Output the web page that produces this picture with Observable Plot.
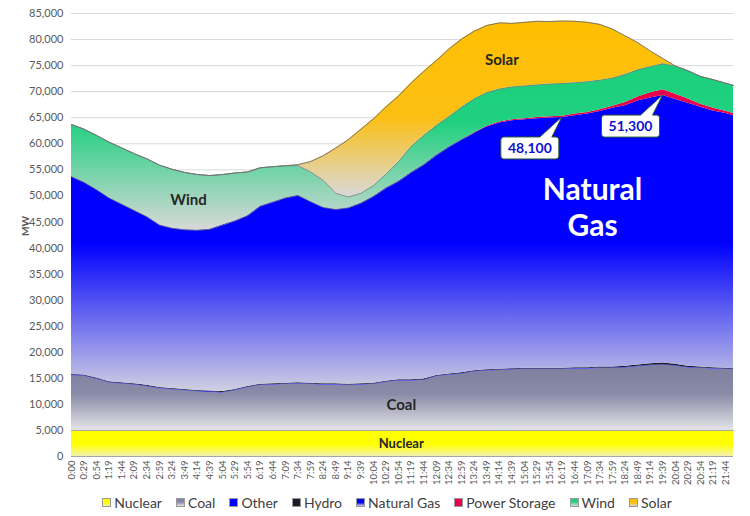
<!DOCTYPE html>
<html>
<head>
<meta charset="utf-8">
<script src="https://cdn.jsdelivr.net/npm/d3@7"></script>
<script src="https://cdn.jsdelivr.net/npm/@observablehq/plot@0.6"></script>
<style>
  html, body { margin: 0; padding: 0; background: #fff; }
  body { width: 750px; height: 516px; overflow: hidden; font-family: Lato, "Open Sans", sans-serif; }
  #chart svg { display: block; }
  #legend { display: flex; justify-content: center; align-items: center; height: 28px; padding-left: 24px; box-sizing: border-box; width: 750px; font-size: 14px; color: #404040; }
  .item { display: flex; align-items: center; margin: 0 7px; }
  .sw { width: 7px; height: 7px; border: 1px solid #9a9a9a; margin-right: 3px; }
</style>
</head>
<body>
<div id="chart"></div>
<div id="legend"></div>
<script>
// ---- data (MW) ----
const times = ["0:00","0:29","0:54","1:19","1:44","2:09","2:34","2:59","3:24","3:49","4:14","4:39","5:04","5:29","5:54","6:19","6:44","7:09","7:34","7:59","8:24","8:49","9:14","9:39","10:04","10:29","10:54","11:19","11:44","12:09","12:34","12:59","13:24","13:49","14:14","14:39","15:04","15:29","15:54","16:19","16:44","17:09","17:34","17:59","18:24","18:49","19:14","19:39","20:04","20:29","20:54","21:19","21:44","21:59"];

const nuclear = [5000,5000,5000,5000,5000,5000,5000,5000,5000,5000,5000,5000,5000,5000,5000,5000,5000,5000,5000,5000,5000,5000,5000,5000,5000,5000,5000,5000,5000,5000,5000,5000,5000,5000,5000,5000,5000,5000,5000,5000,5000,5000,5000,5000,5000,5000,5000,5000,5000,5000,5000,5000,5000,5000];
const coal = [10500,10400,9800,9100,8900,8700,8400,8000,7800,7600,7400,7300,7200,7600,8200,8600,8700,8800,8900,8800,8700,8700,8600,8700,8800,9200,9500,9500,9600,10300,10600,10800,11200,11400,11500,11600,11700,11700,11700,11700,11800,11800,11900,11900,12000,12200,12400,12500,12300,12000,11900,11800,11700,11600];
const other = [100,100,100,100,100,100,100,100,100,100,100,100,100,100,100,100,100,100,100,100,100,100,100,100,100,100,100,100,100,100,100,100,100,100,100,100,100,100,100,100,100,100,100,100,100,100,100,100,100,100,100,100,100,100];
const hydro = [150,150,150,150,150,150,150,150,150,150,150,150,150,150,150,150,150,150,150,150,150,150,150,150,150,150,150,150,150,150,150,150,150,150,150,150,150,150,150,150,150,150,150,150,200,250,300,350,300,200,150,150,150,150];
const naturalGas = [37950,36950,36150,35250,34250,33250,32350,31150,30750,30650,30750,31050,31950,32350,32750,34150,34850,35550,35950,34850,33850,33450,33850,34650,35850,37050,38050,39750,41150,42250,43550,44750,45550,46550,47250,47550,47650,47850,48000,48100,48350,48650,49050,49650,50000,50650,51000,51300,50800,50500,49850,49250,48850,48550];
const powerStorage = [0,0,0,0,0,0,0,0,0,0,0,0,0,0,0,0,0,0,0,0,0,0,0,0,0,0,0,0,0,0,0,0,100,150,200,200,200,250,250,250,300,300,350,400,600,800,1000,1100,1000,800,600,500,450,400];
const wind = [10000,10200,10400,10700,10800,10900,11100,11500,11300,11000,10700,10300,9700,9200,8400,7400,6800,6200,5700,5700,5200,3100,2100,1900,2100,2700,3800,5000,5600,5700,5800,6200,6500,6450,6300,6300,6300,6250,6250,6250,6000,5900,5650,5400,5400,5200,5000,5000,5400,5400,5300,5500,5350,5400];
const solar = [0,0,0,0,0,0,0,0,0,0,0,0,0,0,0,0,0,0,200,2000,4700,8700,11000,12300,12800,12900,12600,12200,12300,12500,13000,13100,13000,12900,12700,12200,12200,12200,12000,12000,11800,11400,10700,9400,7400,5200,3000,1000,0,0,0,0,0,0];

const seriesNames = ["Nuclear","Coal","Other","Hydro","Natural Gas","Power Storage","Wind","Solar"];
const seriesValues = [nuclear, coal, other, hydro, naturalGas, powerStorage, wind, solar];
const yTicks = [0,5000,10000,15000,20000,25000,30000,35000,40000,45000,50000,55000,60000,65000,70000,75000,80000,85000];

// area labels: x is the category position, y in MW
const areaLabels = [
  {text: "Wind", x: 9.3, y: 49100, size: 15, color: "#262626"},
  {text: "Solar", x: 34.2, y: 76000, size: 15, color: "#262626"},
  {text: "Coal", x: 26.2, y: 9800, size: 15, color: "#262626"},
  {text: "Nuclear", x: 26.2, y: 2500, size: 13, color: "#262626"},
  {text: "Natural", x: 41.4, y: 51000, size: 30, color: "#ffffff"},
  {text: "Gas", x: 41.4, y: 44100, size: 30, color: "#ffffff"}
];
const callouts = [
  {label: "48,100", time: "16:19"},
  {label: "51,300", time: "19:39"}
];

// ---- styling ----
const gradients = [
  [[0,"#ffff00"],[0.55,"#ffff00"],[1,"#f2f0b0"]],
  [[0,"#7e7f9e"],[0.45,"#8a8ba8"],[1,"#e4e4e8"]],
  [[0,"#0000ff"],[1,"#0000ff"]],
  [[0,"#1c1c28"],[1,"#1c1c28"]],
  [[0,"#0000ff"],[0.5,"#0000ff"],[1,"#d0d0e2"]],
  [[0,"#e8004c"],[1,"#e8004c"]],
  [[0,"#1bd07c"],[0.35,"#1fd080"],[1,"#d8d8d8"]],
  [[0,"#ffbf00"],[0.55,"#fbbf14"],[1,"#d9d9d9"]]
];

const xPos = t => { const [h, m] = t.split(":").map(Number); const min = h * 60 + m; return min === 0 ? 0 : (min - 4) / 25; };
const tickLabel = new Map(times.slice(0, 53).map(t => [xPos(t), t]));

const rows = seriesNames.flatMap((s, j) => times.map((t, i) => ({series: s, x: xPos(t), value: seriesValues[j][i]})));
const cum = (upto) => times.map((t, i) => ({x: xPos(t), y: seriesValues.slice(0, upto).reduce((a, arr) => a + arr[i], 0), i}));
const totalTop = cum(8);
const windTop = cum(7);
const gasStorTop = cum(6).filter(d => powerStorage[d.i] === 0 || d.i === 32);
const nucTop = cum(1);

const plot = Plot.plot({
  width: 750,
  height: 488,
  marginLeft: 71,
  marginRight: 17,
  marginTop: 13,
  marginBottom: 32,
  style: {fontFamily: "Lato, 'Open Sans', sans-serif", background: "#fff"},
  x: {type: "linear", domain: [0, 52.6]},
  y: {domain: [0, 85000]},
  color: {type: "ordinal", domain: seriesNames, range: seriesNames.map((s, j) => `url(#grad${j})`)},
  marks: [
    Plot.ruleY(yTicks.filter(v => v > 0), {stroke: "#d9d9d9", strokeWidth: 1}),
    Plot.areaY(rows, {x: "x", y: "value", z: "series", fill: "series", order: seriesNames, curve: "linear"}),
    Plot.line(gasStorTop, {x: "x", y: "y", stroke: "#7a7a8a", strokeWidth: 0.8}),
    Plot.line(windTop, {x: "x", y: "y", stroke: "#7f7f7f", strokeWidth: 0.8}),
    Plot.line(totalTop, {x: "x", y: "y", stroke: "#6f6f6f", strokeWidth: 0.9}),
    Plot.line(nucTop, {x: "x", y: "y", stroke: "#a6a6a6", strokeWidth: 1}),
    Plot.ruleY([0], {stroke: "#a6a6a6", strokeWidth: 1}),
    Plot.text(areaLabels, {x: "x", y: "y", text: "text", fontSize: d => d.size, fill: d => d.color, fontWeight: "bold"}),
    Plot.text(["MW"], {frameAnchor: "left", dx: -46, dy: 1, rotate: -90, fontWeight: "bold", fontSize: 10, fill: "#595959"}),
    Plot.axisY({ticks: yTicks, tickFormat: d3.format(","), tickSize: 0, tickPadding: 8, fontSize: 11, fill: "#595959", label: null}),
    Plot.axisX({ticks: [...tickLabel.keys()], tickFormat: v => tickLabel.get(v), tickRotate: -90, tickSize: 0, tickPadding: 4, fontSize: 9.5, fill: "#595959", label: null})
  ]
});

// gradient defs
const svg = d3.select(plot);
const defs = svg.insert("defs", ":first-child");
gradients.forEach((stops, j) => {
  const g = defs.append("linearGradient").attr("id", `grad${j}`).attr("x1", 0).attr("y1", 0).attr("x2", 0).attr("y2", 1);
  stops.forEach(([o, c]) => g.append("stop").attr("offset", o).attr("stop-color", c));
});

// callouts pointing at the natural gas top
const xs = plot.scale("x"), ys = plot.scale("y");
const gasTop = cum(5);
const cg = svg.append("g");
callouts.forEach(c => {
  const i = times.indexOf(c.time);
  const tx = xs.apply(xPos(c.time)), ty = ys.apply(gasTop[i].y);
  const cx = tx - 32, cy = ty + 31, w = 58, h = 22, r = 3;
  const L = cx - w / 2, R = cx + w / 2, T = cy - h / 2, B = cy + h / 2;
  const p1 = cx + 10, p2 = cx + 22;
  const path = `M${L + r},${T}L${p1},${T}L${tx},${ty}L${p2},${T}L${R - r},${T}Q${R},${T} ${R},${T + r}L${R},${B - r}Q${R},${B} ${R - r},${B}L${L + r},${B}Q${L},${B} ${L},${B - r}L${L},${T + r}Q${L},${T} ${L + r},${T}Z`;
  cg.append("path").attr("d", path).attr("fill", "#fff").attr("stroke", "#2f5a36").attr("stroke-width", 1);
  cg.append("text").attr("x", cx).attr("y", cy).attr("dy", "0.35em").attr("text-anchor", "middle")
    .attr("font-size", 14).attr("font-weight", "bold").attr("fill", "#1010cc").text(c.label);
});

document.getElementById("chart").appendChild(plot);

// legend
const legendCss = gradients.map(stops => `linear-gradient(to bottom, ${stops.map(([o, c]) => `${c} ${o * 100}%`).join(", ")})`);
const legend = d3.select("#legend");
seriesNames.forEach((s, j) => {
  const it = legend.append("div").attr("class", "item");
  it.append("div").attr("class", "sw").style("background", legendCss[j]);
  it.append("span").text(s);
});
</script>
</body>
</html>
